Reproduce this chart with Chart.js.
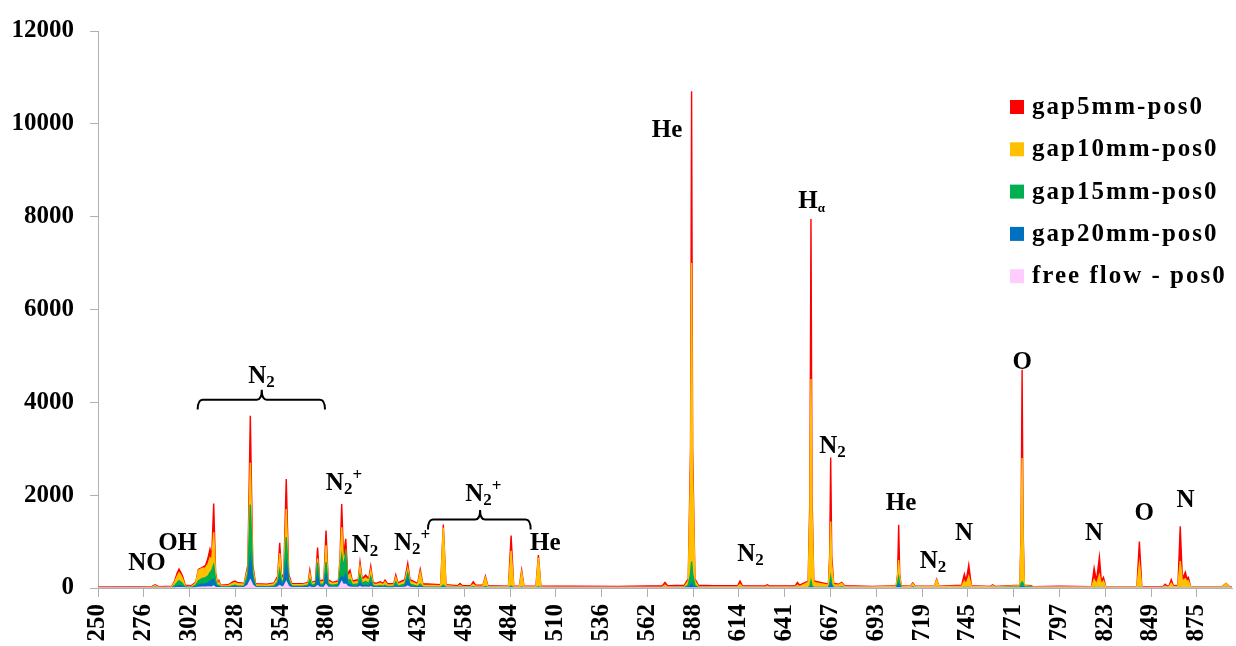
<!DOCTYPE html>
<html>
<head>
<meta charset="utf-8">
<script src="https://cdn.jsdelivr.net/npm/chart.js@4.4.1/dist/chart.umd.min.js"></script>
<style>
  html, body { margin: 0; padding: 0; background: #fff; }
  #wrap { width: 1236px; height: 646px; position: relative; }
</style>
</head>
<body>
<div id="wrap"><canvas id="c" width="1236" height="646"></canvas></div>
<script>
// Optical emission spectra (intensity, a.u.) versus wavelength (nm)
const wavelengths = [
  250, 270, 280.5, 282.4, 284.5, 292.0, 293.5, 295.0, 296.0, 297.0, 298.0, 299.5,
  303.0, 305.5, 307.0, 309.0, 311.0, 312.5, 313.6, 314.6, 315.7, 316.8, 318.0, 318.7, 319.6,
  324.0, 326.5, 327.8, 329.0, 333.0, 335.1, 336.5, 337.9, 339.5,
  346.0, 350.0, 352.0, 353.2, 354.3, 355.5, 356.9, 358.3, 360.0,
  366.0, 369.3, 370.3, 371.3, 373.5, 374.7, 375.9, 378.3, 379.5, 380.7,
  383.0, 386.5, 387.4, 388.4, 389.4, 390.7, 391.8, 393.1, 394.5,
  397.8, 398.8, 400.0, 402.0, 403.8, 404.9, 406.2,
  408.0, 410.2, 412.0, 413.0, 414.5, 418.0, 419.1, 420.3, 424.2, 425.9, 427.2, 431.5, 433.0, 434.5,
  444.6, 446.1, 447.6, 454.3, 455.6, 457.0, 461.7, 463.1, 464.5, 468.6, 470.0, 471.4, 483.1, 484.6, 486.1, 489.3, 490.6, 491.9, 498.7, 500.1, 501.5,
  520.0, 545.0, 570.5, 572.0, 573.5, 583.0, 585.2, 586.5, 587.1, 587.7, 589.0, 591.0,
  600.0, 613.3, 614.6, 615.9, 629.0, 630.1, 631.2, 646.0, 647.2, 648.4, 653.3, 654.3, 654.9, 655.5, 656.5, 664.8, 665.5, 666.1, 666.7, 667.8, 670.5, 672.4, 674.0,
  690.0, 703.3, 704.1, 704.7, 705.3, 706.1, 711.3, 712.7, 714.1, 725.0, 726.3, 727.6, 740.5, 742.0, 743.0, 744.5, 746.0, 756.8, 758.1, 759.4,
  773.5, 774.2, 774.8, 775.4, 776.1, 779.9, 781.0, 796.3,
  814.3, 815.7, 817.0, 818.7, 819.8, 821.0, 822.3, 840.0, 841.4, 842.8, 854.8, 856.0, 857.2, 858.3, 859.5, 860.7, 863.3, 864.6, 865.8, 867.5, 868.4, 869.2, 870.5, 888.5, 890.6, 892.5, 894.0
];

const gap5mm = [
  20, 25, 30, 70, 30, 40, 150, 330, 410, 340, 260, 60,
  50, 120, 400, 440, 480, 650, 840, 700, 1820, 320, 80, 160, 60,
  70, 130, 150, 120, 100, 500, 3710, 500, 90,
  80, 110, 250, 975, 240, 300, 2350, 300, 90,
  90, 120, 385, 120, 150, 870, 150, 180, 1240, 180,
  120, 150, 600, 1810, 700, 1060, 300, 385, 150,
  180, 560, 200, 280, 200, 470, 120,
  100, 135, 100, 170, 90, 100, 280, 110, 180, 530, 180, 100, 400, 90,
  70, 1370, 70, 50, 100, 50, 50, 135, 60, 60, 255, 50, 40, 1130, 40, 40, 385, 40, 40, 710, 40,
  40, 35, 50, 120, 50, 60, 200, 3000, 10700, 3000, 200, 60,
  50, 50, 150, 50, 45, 70, 45, 50, 120, 60, 150, 2000, 7950, 2000, 150, 80, 700, 2810, 700, 100, 80, 120, 50,
  35, 50, 300, 1360, 300, 50, 40, 110, 40, 40, 190, 40, 60, 300, 150, 500, 50, 35, 70, 35,
  60, 1200, 4700, 1200, 60, 50, 30, 40,
  30, 430, 150, 670, 150, 230, 30, 30, 1000, 30, 30, 80, 40, 50, 180, 50, 60, 1330, 200, 340, 200, 230, 30, 30, 100, 30, 25
];

const gap10mm = [
  10, 10, 15, 55, 15, 25, 120, 260, 330, 280, 200, 40,
  30, 100, 380, 420, 430, 520, 650, 600, 1200, 260, 60, 120, 45,
  50, 100, 120, 90, 80, 420, 2700, 420, 70,
  60, 90, 200, 750, 190, 240, 1700, 240, 70,
  70, 100, 300, 100, 120, 640, 120, 140, 920, 140,
  100, 120, 500, 1310, 560, 760, 240, 300, 120,
  140, 460, 160, 220, 160, 380, 90,
  70, 100, 70, 130, 60, 70, 220, 80, 140, 420, 140, 70, 330, 60,
  50, 1300, 50, 30, 60, 30, 35, 80, 40, 40, 220, 35, 25, 800, 25, 25, 330, 25, 25, 650, 25,
  15, 15, 20, 60, 20, 30, 150, 2500, 7000, 2500, 150, 30,
  25, 25, 80, 25, 20, 40, 20, 25, 60, 30, 120, 1600, 4500, 1600, 120, 60, 500, 1430, 500, 70, 60, 100, 30,
  20, 40, 250, 600, 250, 40, 30, 90, 30, 30, 170, 30, 40, 150, 80, 250, 40, 20, 50, 20,
  50, 1000, 2800, 1000, 50, 35, 20, 20,
  20, 180, 80, 280, 80, 150, 20, 20, 520, 20, 15, 40, 20, 30, 100, 30, 40, 580, 150, 200, 150, 150, 20, 20, 90, 20, 15
];

const gap15mm = [
  5, 5, 5, 15, 5, 10, 50, 120, 160, 130, 90, 20,
  15, 60, 150, 200, 220, 260, 330, 380, 500, 160, 30, 60, 25,
  25, 50, 60, 45, 40, 300, 1800, 300, 40,
  30, 45, 130, 385, 120, 180, 1100, 180, 40,
  40, 60, 180, 60, 80, 550, 80, 90, 560, 90,
  60, 80, 350, 700, 450, 750, 160, 180, 70,
  90, 280, 100, 140, 100, 240, 50,
  40, 50, 40, 60, 30, 40, 130, 40, 80, 320, 80, 35, 80, 25,
  15, 60, 15, 10, 15, 10, 10, 20, 10, 10, 30, 10, 8, 40, 8, 8, 20, 8, 8, 25, 8,
  5, 5, 5, 10, 5, 10, 60, 300, 570, 300, 60, 10,
  5, 5, 10, 5, 5, 5, 5, 5, 10, 5, 10, 40, 150, 40, 10, 10, 80, 240, 80, 15, 10, 20, 5,
  5, 10, 100, 230, 100, 10, 5, 20, 5, 5, 10, 5, 5, 10, 10, 10, 5, 5, 10, 5,
  20, 100, 130, 100, 20, 20, 5, 5,
  5, 10, 5, 10, 5, 10, 5, 5, 10, 5, 5, 5, 5, 5, 5, 5, 5, 10, 5, 5, 5, 5, 5, 5, 10, 5, 5
];

const gap20mm = [
  3, 3, 3, 5, 3, 5, 20, 40, 50, 45, 30, 10,
  8, 25, 60, 80, 90, 110, 140, 170, 180, 70, 15, 25, 12,
  12, 25, 30, 20, 20, 180, 650, 180, 20,
  15, 20, 80, 215, 70, 110, 530, 110, 20,
  20, 30, 90, 30, 40, 280, 40, 45, 280, 45,
  30, 40, 200, 240, 200, 300, 80, 80, 30,
  40, 130, 40, 60, 40, 110, 20,
  15, 20, 15, 20, 10, 15, 50, 15, 40, 200, 40, 15, 25, 10,
  5, 15, 5, 5, 5, 5, 5, 5, 5, 5, 5, 5, 3, 10, 3, 3, 5, 3, 3, 5, 3,
  2, 2, 2, 3, 2, 3, 15, 50, 100, 50, 15, 3,
  2, 2, 3, 2, 2, 2, 2, 2, 3, 2, 3, 10, 30, 10, 3, 3, 30, 100, 30, 5, 3, 5, 2,
  2, 3, 40, 90, 40, 3, 2, 5, 2, 2, 3, 2, 2, 3, 3, 3, 2, 2, 3, 2,
  5, 20, 30, 20, 5, 5, 2, 2,
  2, 3, 2, 3, 2, 3, 2, 2, 3, 2, 2, 2, 2, 2, 2, 2, 2, 3, 2, 2, 2, 2, 2, 2, 3, 2, 2
];

const freeFlow = [
  0, 0, 0, 0, 0, 0, 0, 5, 5, 5, 5, 0,
  0, 5, 10, 15, 15, 20, 20, 25, 40, 10, 5, 5, 5,
  5, 5, 8, 5, 8, 60, 170, 60, 10,
  5, 8, 20, 50, 20, 30, 135, 30, 8,
  8, 8, 20, 8, 10, 50, 10, 10, 70, 10,
  10, 10, 60, 135, 70, 80, 30, 20, 10,
  10, 30, 10, 15, 10, 25, 5,
  5, 5, 5, 5, 3, 5, 10, 5, 10, 40, 10, 3, 5, 3,
  0, 0, 0, 0, 0, 0, 0, 0, 0, 0, 0, 0, 0, 0, 0, 0, 0, 0, 0, 0, 0,
  0, 0, 0, 0, 0, 0, 0, 0, 0, 0, 0, 0,
  0, 0, 0, 0, 0, 0, 0, 0, 0, 0, 0, 0, 0, 0, 0, 0, 0, 0, 0, 0, 0, 0, 0,
  0, 0, 0, 0, 0, 0, 0, 0, 0, 0, 0, 0, 0, 0, 0, 0, 0, 0, 0, 0,
  0, 0, 0, 0, 0, 0, 0, 0,
  0, 0, 0, 0, 0, 0, 0, 0, 0, 0, 0, 0, 0, 0, 0, 0, 0, 0, 0, 0, 0, 0, 0, 0, 0, 0, 0
];

const seriesLabels = ['gap5mm-pos0', 'gap10mm-pos0', 'gap15mm-pos0', 'gap20mm-pos0', 'free flow - pos0'];
const seriesColors = ['#FF0000', '#FFC000', '#00B050', '#0070C0', '#FFCCFF'];
const seriesValues = [gap5mm, gap10mm, gap15mm, gap20mm, freeFlow];

// x-axis tick positions and their printed wavelength labels
const tickPositions = [250, 276, 302, 328, 354, 380, 406, 432, 458, 484, 510, 536, 562, 588, 614, 640, 666, 692, 718, 744, 770, 796, 822, 848, 874];
const tickLabels = ['250', '276', '302', '328', '354', '380', '406', '432', '458', '484', '510', '536', '562', '588', '614', '641', '667', '693', '719', '745', '771', '797', '823', '849', '875'];

// species labels: main text, optional subscript / superscript, anchor (nm, intensity)
const peakLabels = [
  { t: 'NO', x: 277.8, y: 385 },
  { t: 'OH', x: 295.2, y: 813 },
  { t: 'N', sub: '2', x: 342.9, y: 4406 },
  { t: 'N', sub: '2', sup: '+', x: 389.7, y: 2111 },
  { t: 'N', sub: '2', x: 401.6, y: 770 },
  { t: 'N', sub: '2', sup: '+', x: 428.4, y: 813 },
  { t: 'N', sub: '2', sup: '+', x: 468.8, y: 1882 },
  { t: 'He', x: 504.0, y: 813 },
  { t: 'He', x: 573.2, y: 9711 },
  { t: 'H', sub: 'α', small: true, x: 655.3, y: 8192 },
  { t: 'N', sub: '2', x: 620.6, y: 584 },
  { t: 'N', sub: '2', x: 667.1, y: 2915 },
  { t: 'He', x: 706.0, y: 1683 },
  { t: 'N', sub: '2', x: 724.2, y: 421 },
  { t: 'N', x: 741.8, y: 1042 },
  { t: 'O', x: 774.9, y: 4721 },
  { t: 'N', x: 815.7, y: 1042 },
  { t: 'O', x: 844.1, y: 1455 },
  { t: 'N', x: 867.6, y: 1739 }
];

// braces grouping band systems (nm span, tip, intensity levels)
const braces = [
  { from: 306.6, to: 378.9, mid: 343.0, line: 4058, end: 3844, tip: 4272 },
  { from: 437.4, to: 495.7, mid: 467.0, line: 1476, end: 1262, tip: 1683 }
];

const FONT = '"Liberation Serif", "Times New Roman", serif';

const datasets = seriesLabels.map((label, k) => ({
  label,
  data: wavelengths.map((w, i) => ({ x: w, y: seriesValues[k][i] })),
  borderColor: seriesColors[k],
  backgroundColor: seriesColors[k],
  borderWidth: 1.4,
  fill: 'origin',
  pointRadius: 0,
  tension: 0
})).reverse(); // first series drawn last => lowest-intensity series sits on top

const annotationPlugin = {
  id: 'speciesLabels',
  afterDatasetsDraw(chart) {
    const { ctx, scales: { x, y } } = chart;
    ctx.save();
    ctx.fillStyle = '#000';
    ctx.strokeStyle = '#000';
    ctx.textBaseline = 'alphabetic';
    ctx.textAlign = 'left';
    const big = 'bold 25px ' + FONT;
    const small = 'bold 17px ' + FONT;
    const tiny = 'bold 13px ' + FONT;
    peakLabels.forEach(a => {
      const subFont = a.small ? tiny : small;
      ctx.font = big; const w1 = ctx.measureText(a.t).width;
      ctx.font = subFont; const w2 = a.sub ? ctx.measureText(a.sub).width : 0;
      ctx.font = small; const w3 = a.sup ? ctx.measureText(a.sup).width : 0;
      const total = w1 + w2 + w3;
      let px = x.getPixelForValue(a.x) - total / 2;
      const py = y.getPixelForValue(a.y);
      ctx.font = big; ctx.fillText(a.t, px, py); px += w1;
      if (a.sub) { ctx.font = subFont; ctx.fillText(a.sub, px, py + 4); px += w2; }
      if (a.sup) { ctx.font = small; ctx.fillText(a.sup, px, py - 10); }
    });
    ctx.lineWidth = 2;
    braces.forEach(b => {
      const x0 = x.getPixelForValue(b.from), x1 = x.getPixelForValue(b.to), xm = x.getPixelForValue(b.mid);
      const yl = y.getPixelForValue(b.line), ye = y.getPixelForValue(b.end), yt = y.getPixelForValue(b.tip);
      const r = 5;
      ctx.beginPath();
      ctx.moveTo(x0, ye);
      ctx.quadraticCurveTo(x0, yl, x0 + r, yl);
      ctx.lineTo(xm - r, yl);
      ctx.quadraticCurveTo(xm, yl, xm, yt);
      ctx.quadraticCurveTo(xm, yl, xm + r, yl);
      ctx.lineTo(x1 - r, yl);
      ctx.quadraticCurveTo(x1, yl, x1, ye);
      ctx.stroke();
    });
    ctx.restore();
  }
};

const legendPlugin = {
  id: 'insetLegend',
  afterDraw(chart) {
    const ctx = chart.ctx;
    ctx.save();
    ctx.font = 'bold 25px ' + FONT;
    ctx.textBaseline = 'alphabetic';
    ctx.textAlign = 'left';
    ctx.letterSpacing = '2px';
    seriesLabels.forEach((label, i) => {
      const cy = 107 + i * 42.3;
      ctx.fillStyle = seriesColors[i];
      ctx.fillRect(1010, cy - 7, 14, 14);
      ctx.fillStyle = '#000';
      ctx.fillText(label, 1032, cy + 7);
    });
    ctx.letterSpacing = '0px';
    ctx.restore();
  }
};

new Chart(document.getElementById('c'), {
  type: 'line',
  data: { datasets },
  options: {
    responsive: false,
    animation: false,
    devicePixelRatio: 1,
    layout: { padding: { left: 12, right: 4, top: 18, bottom: 2 } },
    plugins: { legend: { display: false }, tooltip: { enabled: false } },
    scales: {
      x: {
        type: 'linear',
        min: 250,
        max: 894,
        afterBuildTicks: scale => { scale.ticks = tickPositions.map(v => ({ value: v })); },
        afterFit: scale => { scale.height = 56; },
        ticks: {
          autoSkip: false,
          minRotation: 90,
          maxRotation: 90,
          padding: 7,
          color: '#000',
          font: { family: FONT, size: 25, weight: 'bold' },
          callback: (v, i) => tickLabels[i]
        },
        grid: { drawOnChartArea: false, tickLength: 9, color: '#B0B0B0' },
        border: { color: '#B0B0B0' }
      },
      y: {
        min: 0,
        max: 12000,
        afterFit: scale => { scale.width = 86; },
        ticks: {
          stepSize: 2000,
          padding: 16,
          color: '#000',
          font: { family: FONT, size: 25, weight: 'bold' },
          callback: v => String(v)
        },
        grid: { drawOnChartArea: false, tickLength: 8, color: '#B0B0B0' },
        border: { color: '#B0B0B0' }
      }
    }
  },
  plugins: [annotationPlugin, legendPlugin]
});
</script>
</body>
</html>
